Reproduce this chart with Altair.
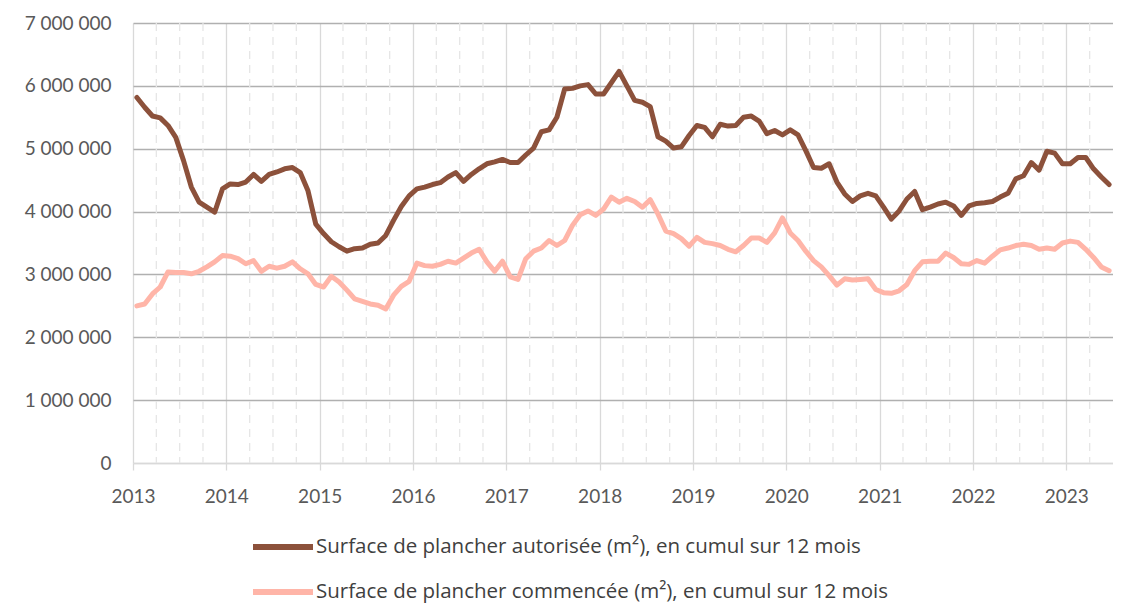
import altair as alt
import pandas as pd

START_YEAR = 2013
years = list(range(2013, 2024))
y_ticks = [0, 1000000, 2000000, 3000000, 4000000, 5000000, 6000000, 7000000]

label_aut = "Surface de plancher autorisée (m²), en cumul sur 12 mois"
label_com = "Surface de plancher commencée (m²), en cumul sur 12 mois"

# monthly values (millions m²), Jan 2013 .. Jun 2023
autorisee = [
    5.815, 5.66, 5.52, 5.49, 5.37, 5.18, 4.81, 4.39, 4.15, 4.07, 3.99, 4.36,
    4.44, 4.43, 4.47, 4.59, 4.48, 4.59, 4.63, 4.68, 4.70, 4.62, 4.33, 3.80,
    3.65, 3.52, 3.44, 3.37, 3.41, 3.42, 3.48, 3.50, 3.62, 3.86, 4.08, 4.25,
    4.36, 4.39, 4.43, 4.46, 4.55, 4.62, 4.48, 4.59, 4.68, 4.76, 4.79, 4.83,
    4.78, 4.78, 4.90, 5.01, 5.27, 5.30, 5.50, 5.95, 5.96, 6.00, 6.02, 5.87,
    5.87, 6.05, 6.23, 6.00, 5.77, 5.74, 5.67, 5.19, 5.12, 5.01, 5.03, 5.21,
    5.37, 5.34, 5.19, 5.39, 5.36, 5.37, 5.50, 5.52, 5.44, 5.24, 5.29, 5.22,
    5.30, 5.22, 4.97, 4.70, 4.69, 4.76, 4.47, 4.28, 4.16, 4.25, 4.29, 4.25,
    4.07, 3.88, 4.01, 4.20, 4.32, 4.03, 4.07, 4.12, 4.15, 4.09, 3.94, 4.09,
    4.13, 4.14, 4.16, 4.23, 4.29, 4.52, 4.57, 4.78, 4.66, 4.96, 4.93, 4.76,
    4.76, 4.86, 4.86, 4.68, 4.55, 4.43,
]
commencee = [
    2.50, 2.53, 2.69, 2.80, 3.04, 3.03, 3.03, 3.01, 3.05, 3.12, 3.20, 3.30,
    3.29, 3.25, 3.17, 3.22, 3.05, 3.13, 3.10, 3.13, 3.20, 3.09, 3.01, 2.84,
    2.80, 2.97, 2.88, 2.75, 2.61, 2.57, 2.53, 2.51, 2.45, 2.67, 2.81, 2.89,
    3.18, 3.14, 3.13, 3.16, 3.21, 3.18, 3.26, 3.34, 3.40, 3.20, 3.05, 3.21,
    2.96, 2.92, 3.25, 3.37, 3.42, 3.54, 3.46, 3.54, 3.78, 3.95, 4.01, 3.94,
    4.04, 4.23, 4.15, 4.21, 4.16, 4.07, 4.19, 3.96, 3.69, 3.65, 3.57, 3.45,
    3.59, 3.51, 3.49, 3.46, 3.40, 3.36, 3.46, 3.58, 3.58, 3.51, 3.66, 3.90,
    3.66, 3.54, 3.37, 3.22, 3.12, 2.98, 2.83, 2.93, 2.91, 2.92, 2.93, 2.76,
    2.71, 2.70, 2.74, 2.84, 3.06, 3.20, 3.21, 3.21, 3.34, 3.27, 3.17, 3.16,
    3.22, 3.18, 3.29, 3.39, 3.42, 3.46, 3.48, 3.46, 3.40, 3.42, 3.40, 3.50,
    3.53, 3.51, 3.40, 3.27, 3.12, 3.06,
]

rows = []
for name, series in [(label_aut, autorisee), (label_com, commencee)]:
    for i, v in enumerate(series):
        rows.append({"t": START_YEAR + (i + 0.5) / 12, "v": round(v * 1e6), "s": name})
df = pd.DataFrame(rows)

quarters = pd.DataFrame({"t": [y + k / 4 for y in range(2013, 2023) for k in (1, 2, 3)] + [2023.25]})

x_scale = alt.Scale(domain=[2013, 2023.5], nice=False, zero=False)
y_scale = alt.Scale(domain=[0, 7000000], nice=False)

label_font = "Lato"

x_axis = alt.Axis(
    values=years, format="d", grid=True, gridColor="#D9D9D9", gridWidth=1.3,
    domainColor="#D9D9D9", domainWidth=1.3, tickColor="#D9D9D9", tickWidth=1.3, tickSize=7,
    labelFont=label_font, labelFontSize=19, labelColor="#595959", labelPadding=17,
    labelFlush=False,
)

qrules = alt.Chart(quarters).mark_rule(color="#E6E6E6", strokeWidth=1.3, strokeDash=[8, 6]).encode(
    x=alt.X("t:Q", scale=x_scale, title=None, axis=x_axis)
)

lines = alt.Chart(df).mark_line(strokeWidth=5, strokeCap="round", strokeJoin="round").encode(
    x=alt.X("t:Q", scale=x_scale, title=None, axis=x_axis),
    y=alt.Y(
        "v:Q",
        scale=y_scale,
        title=None,
        axis=alt.Axis(
            values=y_ticks, grid=True,
            gridColor={"condition": {"test": "datum.value === 0", "value": "#D9D9D9"}, "value": "#B0B0B0"},
            gridWidth=1.3, domain=False, ticks=False,
            labelExpr="datum.value == 0 ? '0' : format(datum.value / 1000000, 'd') + ' 000 000'",
            labelFont=label_font, labelFontSize=19, labelColor="#595959", labelPadding=22,
        ),
    ),
    color=alt.Color(
        "s:N",
        scale=alt.Scale(domain=[label_aut, label_com], range=["#8C513B", "#FFB5A8"]),
        legend=alt.Legend(
            title=None, orient="none", legendX=117, legendY=491, direction="vertical",
            symbolType="stroke", symbolSize=3600, symbolStrokeWidth=6, labelOffset=0,
            labelFont="Open Sans", labelFontSize=20.5, labelColor="#404040", labelLimit=900,
            rowPadding=-17,
        ),
    ),
    order=alt.Order("t:Q"),
)

chart = alt.layer(qrules, lines).properties(
    width=980, height=440,
    padding={"left": 125, "top": 15, "right": 0, "bottom": 140},
    autosize=alt.AutoSizeParams(type="none"),
).configure_view(stroke=None)

chart.save("out.html", embed_options={"renderer": "svg", "actions": False})
